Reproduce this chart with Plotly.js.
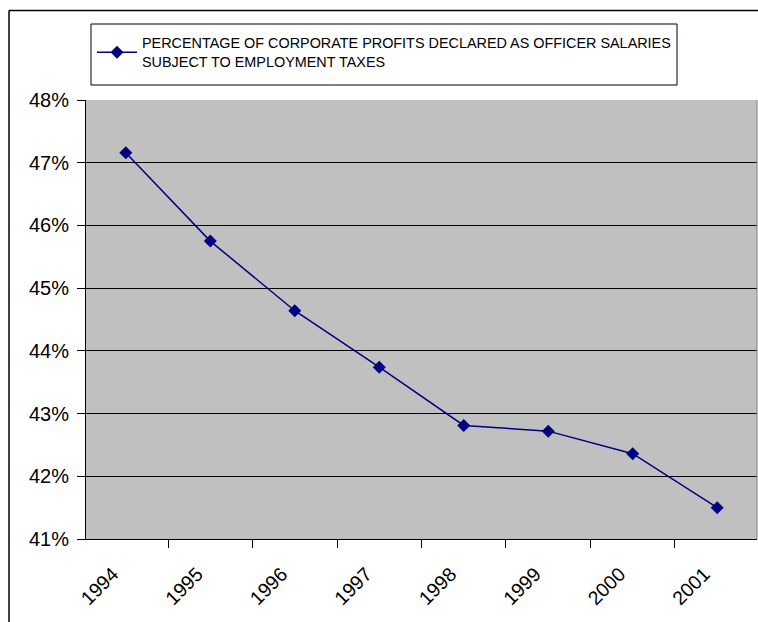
<!DOCTYPE html>
<html>
<head>
<meta charset="utf-8">
<script src="https://cdn.plot.ly/plotly-3.0.1.min.js"></script>
<style>
  html, body { margin: 0; padding: 0; background: #ffffff; }
  #chart { width: 758px; height: 622px; }
</style>
</head>
<body>
<div id="chart"></div>
<script>
const years = ['1994', '1995', '1996', '1997', '1998', '1999', '2000', '2001'];
const percentages = [47.16, 45.75, 44.64, 43.74, 42.81, 42.72, 42.36, 41.50];
const seriesName = 'PERCENTAGE OF CORPORATE PROFITS DECLARED AS OFFICER SALARIES<br>SUBJECT TO EMPLOYMENT TAXES';
const yTicks = [41, 42, 43, 44, 45, 46, 47, 48];

const FONT = '"Liberation Sans", Arial, sans-serif';
const L = 86, R = 757, T = 100, B = 539;
const W = 758, H = 622;
const px = x => (x - L) / (R - L);
const py = y => (B - y) / (B - T);

const trace = {
  x: years,
  y: percentages,
  type: 'scatter',
  mode: 'lines+markers',
  name: seriesName,
  line: { color: '#000080', width: 1.5 },
  marker: { symbol: 'diamond', size: 10, color: '#000080' }
};

const layout = {
  width: W,
  height: H,
  margin: { l: L, r: W - R, t: T, b: H - B, pad: 0 },
  paper_bgcolor: '#ffffff',
  plot_bgcolor: '#c0c0c0',
  font: { family: FONT, color: '#000000' },
  showlegend: true,
  legend: {
    x: px(92), y: py(27), xanchor: 'left', yanchor: 'top',
    bgcolor: 'rgba(0,0,0,0)', borderwidth: 0,
    font: { family: FONT, size: 14.4, color: '#000000' },
    itemwidth: 40
  },
  xaxis: {
    type: 'category',
    tickson: 'boundaries',
    ticks: 'outside', ticklen: 8, tickcolor: '#000000', tickwidth: 1,
    tickangle: -45,
    ticklabelstandoff: 15,
    ticklabelshift: -13,
    tickfont: { family: FONT, size: 19.5, color: '#000000' },
    showline: true, linecolor: '#000000', linewidth: 1,
    showgrid: false, zeroline: false,
    fixedrange: true
  },
  yaxis: {
    range: [41, 48],
    tickvals: yTicks,
    ticktext: yTicks.map(v => v + '%'),
    ticks: 'outside', ticklen: 8, tickcolor: '#000000', tickwidth: 1,
    ticklabelstandoff: 4,
    tickfont: { family: FONT, size: 20, color: '#000000' },
    showline: true, linecolor: '#000000', linewidth: 1,
    showgrid: true, gridcolor: '#000000', gridwidth: 1,
    zeroline: false,
    fixedrange: true
  },
  shapes: [
    { type: 'line', xref: 'paper', yref: 'paper', x0: 1, x1: 1, y0: 0, y1: 1,
      line: { color: '#808080', width: 1 } },
    { type: 'rect', xref: 'paper', yref: 'paper', x0: px(91), x1: px(677), y0: py(24), y1: py(85),
      line: { color: '#000000', width: 1 }, fillcolor: 'rgba(0,0,0,0)' },
    { type: 'line', xref: 'paper', yref: 'paper', x0: px(9), x1: px(9), y0: py(10.5), y1: py(H + 5),
      line: { color: '#000000', width: 1.5 } },
    { type: 'line', xref: 'paper', yref: 'paper', x0: px(9), x1: px(W + 5), y0: py(10.5), y1: py(10.5),
      line: { color: '#000000', width: 1.5 } }
  ]
};

Plotly.newPlot('chart', [trace], layout, { displayModeBar: false, staticPlot: true });
</script>
</body>
</html>
